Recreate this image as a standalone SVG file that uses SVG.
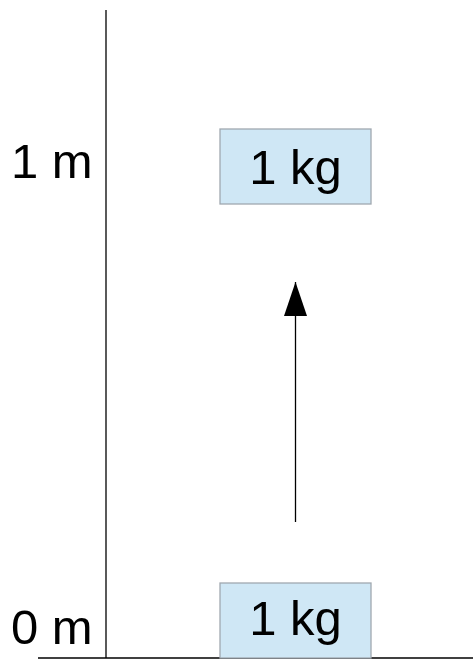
<svg xmlns="http://www.w3.org/2000/svg" width="473" height="661" viewBox="0 0 473 661">
<style>
.box{fill:#cfe7f5;stroke:#a0a8b0;stroke-width:1.3}
.t{font-family:"Liberation Sans",Arial,sans-serif;font-size:49px;fill:#000}
.ln{stroke:#000;stroke-width:1.3;fill:none}
</style>
<defs>
<marker id="ah" markerUnits="userSpaceOnUse" markerWidth="34" markerHeight="23" refX="34" refY="11.5" orient="auto" viewBox="0 0 34 23">
<path d="M34 11.5 L0 23 L0 0 Z" fill="#000"/>
</marker>
</defs>
<g id="axes">
<line class="ln" x1="106" y1="10" x2="106" y2="658"/>
<line class="ln" x1="38" y1="658" x2="473" y2="658"/>
</g>
<g id="labels">
<text class="t" x="11" y="178">1 m</text>
<text class="t" x="11" y="644">0 m</text>
</g>
<g id="top-box">
<rect class="box" x="220" y="129" width="151" height="75"/>
<text class="t" x="295.5" y="184" text-anchor="middle">1 kg</text>
</g>
<g id="bottom-box">
<rect class="box" x="220" y="583" width="151" height="75"/>
<text class="t" x="295.5" y="635" text-anchor="middle">1 kg</text>
</g>
<g id="connectors">
<line class="ln" x1="295.5" y1="522" x2="295.5" y2="282" marker-end="url(#ah)"/>
</g>
</svg>
